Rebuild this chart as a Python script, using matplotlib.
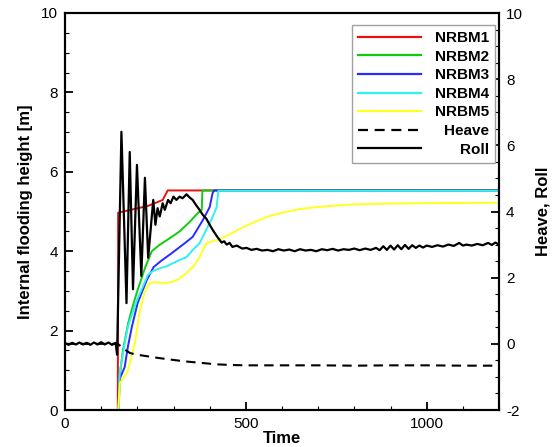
import matplotlib
matplotlib.use("Agg")
import matplotlib.pyplot as plt
from matplotlib.ticker import MultipleLocator

plt.rcParams['font.family'] = ['Liberation Sans', 'DejaVu Sans']
plt.rcParams['axes.unicode_minus'] = False

# ---------------- data ----------------
t1 = [146, 147, 190, 229, 270, 284, 1200]
h1 = [0.0, 4.97, 5.06, 5.14, 5.29, 5.53, 5.53]

t2 = [148, 152, 160, 175, 190, 200, 222, 240, 260, 295, 317, 345, 367, 378, 380, 1200]
h2 = [0.0, 0.9, 1.5, 2.2, 2.7, 3.0, 3.6, 4.0, 4.15, 4.36, 4.5, 4.74, 4.96, 5.04, 5.53, 5.53]

t3 = [149, 150, 152, 165, 174, 185, 201, 226, 245, 265, 295, 331, 353, 381, 400, 408, 412, 1200]
h3 = [0.0, 0.6, 0.8, 1.08, 1.6, 2.1, 2.7, 3.27, 3.6, 3.75, 3.95, 4.2, 4.36, 4.78, 5.11, 5.46, 5.53, 5.53]

t4 = [149, 150, 152, 165, 174, 185, 199, 215, 229, 243, 265, 281, 317, 336, 353, 372, 391, 405, 419, 424, 1200]
h4 = [0.0, 0.7, 1.0, 1.68, 2.1, 2.4, 2.77, 3.1, 3.4, 3.5, 3.58, 3.62, 3.78, 3.85, 4.03, 4.2, 4.55, 4.8, 5.1, 5.52, 5.52]

t5 = [147, 149, 152, 165, 174, 193, 207, 221, 235, 248, 270, 295, 315, 336, 355, 372, 391,
      410, 428, 460, 491, 520, 557, 601, 648, 695, 750, 800, 900, 1000, 1200]
h5 = [0.0, 0.3, 0.68, 0.85, 1.0, 1.68, 2.5, 3.0, 3.2, 3.22, 3.2, 3.22, 3.3, 3.45, 3.62, 3.85, 4.2,
      4.26, 4.3, 4.45, 4.6, 4.72, 4.86, 4.97, 5.06, 5.11, 5.15, 5.18, 5.2, 5.21, 5.22]

t_heave = [0, 146, 166, 180, 200, 230, 260, 295, 331, 380, 420, 460, 500, 600, 700, 800, 900, 1000, 1100, 1200]
heave = [0.0, 0.0, -0.18, -0.28, -0.33, -0.38, -0.43, -0.48, -0.53, -0.58, -0.62, -0.64, -0.65,
         -0.65, -0.65, -0.66, -0.65, -0.65, -0.66, -0.66]

t_roll = [0, 10, 20, 30, 40, 50, 60, 70, 80, 90, 100, 110, 120, 130, 140, 144,
          156, 170, 179, 188, 199, 211, 221, 230, 244, 250, 256, 262, 270, 276, 285, 292,
          300, 308, 317, 325, 336, 345, 353, 362, 372, 381, 391, 400, 408, 420, 433, 440,
          447, 455, 463, 475, 490, 502, 515, 530, 545, 560, 575, 590, 605, 620, 635, 650,
          665, 680, 695, 710, 725, 740, 755, 770, 785, 800, 815, 830, 845, 860, 870, 880,
          890, 900, 910, 920, 930, 940, 950, 960, 970, 980, 990, 1000, 1015, 1030, 1045, 1060,
          1075, 1090, 1100, 1110, 1125, 1140, 1155, 1170, 1180, 1190, 1200]
roll = [0.02, -0.03, 0.03, -0.02, 0.04, -0.02, 0.03, -0.03, 0.04, -0.02, 0.05, -0.02, 0.04, -0.03, 0.03, -0.33,
        6.41, 1.23, 5.8, 1.65, 5.41, 2.05, 5.02, 2.6, 4.35, 3.6, 4.1, 3.85, 4.25, 4.05, 4.35, 4.25,
        4.45, 4.35, 4.45, 4.4, 4.52, 4.42, 4.35, 4.2, 4.05, 3.9, 3.78, 3.6, 3.45, 3.25, 3.06, 3.1,
        3.0, 3.05, 2.93, 2.97, 2.88, 2.9, 2.84, 2.87, 2.82, 2.84, 2.8, 2.86, 2.82, 2.85, 2.8, 2.86,
        2.82, 2.84, 2.8, 2.86, 2.83, 2.87, 2.82, 2.86, 2.84, 2.88, 2.83, 2.88, 2.84, 2.9, 2.83, 2.95,
        2.84, 2.97, 2.85, 2.98, 2.86, 2.99, 2.87, 2.98, 2.9, 2.97, 2.91, 2.97, 2.93, 2.98, 2.94, 3.0,
        2.96, 3.05, 2.97, 3.0, 2.97, 3.02, 2.98, 3.05, 2.99, 3.06, 3.0]

labels = ['NRBM1', 'NRBM2', 'NRBM3', 'NRBM4', 'NRBM5', 'Heave', 'Roll']
colors = ['#e81010', '#10cc10', '#2a2aff', '#30f0f0', '#ffff20']

# ---------------- figure ----------------
fig = plt.figure(figsize=(5.53, 4.47), dpi=100)
ax = fig.add_axes([65/553, 1-410/447, (499-65)/553, (410-13)/447])
ax2 = ax.twinx()

series = [(t1, h1), (t2, h2), (t3, h3), (t4, h4), (t5, h5)]
handles = []
for (tt, hh), c, lab in zip(series, colors, labels[:5]):
    ln, = ax.plot(tt, hh, color=c, lw=1.4, label=lab)
    handles.append(ln)

lh, = ax2.plot(t_heave, heave, color='black', lw=1.5, dashes=(4.5, 3), label='Heave')
lr, = ax2.plot(t_roll, roll, color='black', lw=1.6, label='Roll')
handles += [lh, lr]

ax.set_xlim(0, 1200)
ax.set_ylim(0, 10)
ax2.set_ylim(-2, 10)

ax.xaxis.set_major_locator(MultipleLocator(500))
ax.xaxis.set_minor_locator(MultipleLocator(100))
ax.yaxis.set_major_locator(MultipleLocator(2))
ax.yaxis.set_minor_locator(MultipleLocator(0.5))
ax2.yaxis.set_major_locator(MultipleLocator(2))
ax2.yaxis.set_minor_locator(MultipleLocator(0.5))

for a in (ax, ax2):
    for s in a.spines.values():
        s.set_linewidth(1.5)
    a.tick_params(which='major', direction='in', length=6, width=1.3, labelsize=11, pad=5)
    a.tick_params(which='minor', direction='in', length=3, width=0.8)
ax.tick_params(axis='x', which='both', top=False)

ax.set_xlabel('Time', fontsize=12, fontweight='bold', labelpad=0)
ax.set_ylabel('Internal flooding height [m]', fontsize=12, fontweight='bold', labelpad=6)
ax2.set_ylabel('Heave, Roll', fontsize=12, fontweight='bold', labelpad=9)

leg = ax2.legend(handles, labels, loc='upper right',
                 bbox_to_anchor=(495/553, 1-25/447), bbox_transform=fig.transFigure,
                 borderaxespad=0, fancybox=False, framealpha=1, edgecolor='#a0a0a0',
                 prop={'weight': 'bold', 'size': 11}, handlelength=4.1, handletextpad=0.9,
                 labelspacing=0.3, borderpad=0.4)
leg.get_frame().set_linewidth(1.0)
for lin in leg.get_lines():
    lin.set_linewidth(1.6)

fig.canvas.draw()
renderer = fig.canvas.get_renderer()
widths = [t.get_window_extent(renderer).width for t in leg.get_texts()]
wmax = max(widths)
for t, w in zip(leg.get_texts(), widths):
    t.set_position((wmax - w, 0))

fig.savefig('out.png', dpi=100)
